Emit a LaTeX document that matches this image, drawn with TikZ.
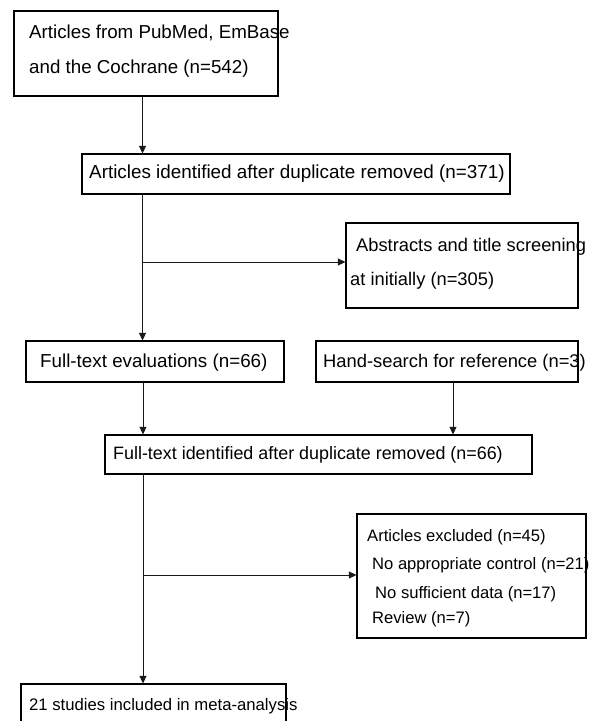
\documentclass[tikz,border=0pt]{standalone}
\usepackage{fontspec}
\setmainfont{Liberation Sans}
\usetikzlibrary{arrows.meta}
\begin{document}
\begin{tikzpicture}[x=1pt,y=-1pt,
  box/.style={draw=black,line width=1.2pt,rectangle,inner sep=0pt},
  txt/.style={anchor=base west,inner sep=0pt,font=\fontsize{#1}{22}\selectfont},
  txt/.default=18.8,
  link/.style={draw=black!90,line width=0.9pt},
  arr/.style={link,-{Triangle[length=7.5pt,width=7pt]}}]
\clip (0,0) rectangle (592,721);
\fill[white] (0,0) rectangle (592,721);
% boxes
\node[box,minimum width=264pt,minimum height=85pt] (b1) at (146,53.5) {};
\node[box,minimum width=428pt,minimum height=40pt] (b2) at (296,174) {};
\node[box,minimum width=232pt,minimum height=85pt] (b3) at (462,265.5) {};
\node[box,minimum width=258pt,minimum height=41pt] (b4) at (155,361.5) {};
\node[box,minimum width=262pt,minimum height=41pt] (b5) at (447,361.5) {};
\node[box,minimum width=427pt,minimum height=39pt] (b6) at (318.5,454.5) {};
\node[box,minimum width=229pt,minimum height=124pt] (b7) at (471.5,576) {};
\node[box,minimum width=265pt,minimum height=70pt] (b8) at (153.5,719) {};
% texts
\node[txt=18.75] (t1a) at (29,38) {Articles from PubMed, EmBase};
\node[txt=18.75] (t1b) at (29,73) {and the Cochrane (n=542)};
\node[txt=18.85] (t2) at (89,178) {Articles identified after duplicate removed (n=371)};
\node[txt=18.3] (t3a) at (356,251) {Abstracts and title screening};
\node[txt=18.3] (t3b) at (350,285) {at initially (n=305)};
\node[txt=18.8] (t4) at (40,367) {Full-text evaluations (n=66)};
\node[txt=18.35] (t5) at (323,367) {Hand-search for reference (n=3)};
\node[txt=17.9] (t6) at (113,459) {Full-text identified after duplicate removed (n=66)};
\node[txt=16.6] (t7a) at (367,541) {Articles excluded (n=45)};
\node[txt=16.6] (t7b) at (372,569) {No appropriate control (n=21)};
\node[txt=16.6] (t7c) at (375,598) {No sufficient data (n=17)};
\node[txt=16.6] (t7d) at (372,623) {Review (n=7)};
\node[txt=16.7] (t8) at (29,710) {21 studies included in meta-analysis};
% connector helpers
\coordinate (xa) at (142.5,0);
\coordinate (xb) at (143,0);
\coordinate (xc) at (453,0);
\coordinate (br1) at (142.5,262);
\coordinate (br2) at (143,575);
% connectors
\draw[arr] (b1.south -| xa) -- (b2.north -| xa);
\draw[arr] (b2.south -| xa) -- (b4.north -| xa);
\draw[arr] (br1) -- (br1 -| b3.west);
\draw[arr] (b4.south -| xb) -- (b6.north -| xb);
\draw[arr] (b5.south -| xc) -- (b6.north -| xc);
\draw[arr] (b6.south -| xb) -- (b8.north -| xb);
\draw[arr] (br2) -- (br2 -| b7.west);
\end{tikzpicture}
\end{document}
